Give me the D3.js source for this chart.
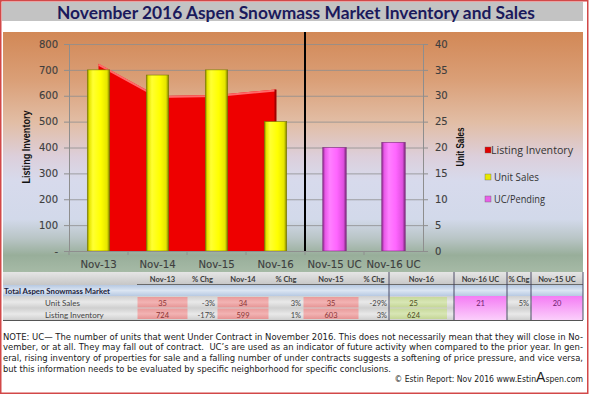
<!DOCTYPE html>
<html><head><meta charset="utf-8">
<script src="https://cdn.jsdelivr.net/npm/d3@7"></script>
<style>body{margin:0;background:#fff}svg{display:block}</style>
</head><body>
<svg id="c" width="590" height="395"></svg>
<script>
// ---------- DATA ----------
const categories = ["Nov-13","Nov-14","Nov-15","Nov-16","Nov-15 UC","Nov-16 UC"];
const inventoryCats = ["Nov-13","Nov-14","Nov-15","Nov-16"];
const listingInventory = [724, 599, 603, 624];
const unitSales = [35, 34, 35, 25];
const ucCats = ["Nov-15 UC","Nov-16 UC"];
const ucPending = [20, 21];
const leftTicks = [0,100,200,300,400,500,600,700,800];
const rightTicks = [0,5,10,15,20,25,30,35,40];
const legendLabels = ["Listing Inventory","Unit Sales","UC/Pending"];
const tableHeaders = ["Nov-13","% Chg","Nov-14","% Chg","Nov-15","% Chg","Nov-16","Nov-16 UC","% Chg","Nov-15 UC"];
const tableUnitSales = ["35","-3%","34","3%","35","-29%","25","21","5%","20"];
const tableListing = ["724","-17%","599","1%","603","3%","624","","",""];
const rowLabels = ["Unit Sales","Listing Inventory"];
const noteLines = [
 "NOTE: UC\u2014 The number of units that went Under Contract in November 2016. This does not necessarily mean that they will close in No-",
 "vember, or at all. They may fall out of contract.  UC\u2019s are used as an indicator of future activity when compared to the prior year. In gen-",
 "eral, rising inventory of properties for sale and a falling number of under contracts suggests a softening of price pressure, and vice versa,",
 "but this information needs to be evaluated by specific neighborhood for specific conclusions."
];

// ---------- LAYOUT ----------
const svg = d3.select("#c");
const defs = svg.append("defs");
const X0 = 69, X1 = 423, Y0 = 251, Y1 = 44;

const bg = defs.append("linearGradient").attr("id","bg").attr("x1",0).attr("y1",0).attr("x2",0).attr("y2",1);
[[0,"#d28856"],[0.2,"#da9f77"],[0.38,"#e2bea6"],[0.52,"#dccfdb"],[0.62,"#d7daec"],[0.78,"#d2d9ea"],[0.86,"#b9c5c6"],[0.93,"#98ae9a"],[1,"#a6baa6"]]
  .forEach(s=>bg.append("stop").attr("offset",s[0]).attr("stop-color",s[1]));

function hGrad(id, stops){
  const g = defs.append("linearGradient").attr("id",id).attr("x1",0).attr("y1",0).attr("x2",1).attr("y2",0);
  stops.forEach(s=>g.append("stop").attr("offset",s[0]).attr("stop-color",s[1]));
}
function vGrad(id, stops){
  const g = defs.append("linearGradient").attr("id",id).attr("x1",0).attr("y1",0).attr("x2",0).attr("y2",1);
  stops.forEach(s=>g.append("stop").attr("offset",s[0]).attr("stop-color",s[1]));
}
hGrad("yel",[[0,"#8c8c00"],[0.1,"#e8e800"],[0.25,"#ffff33"],[0.6,"#ffff00"],[0.88,"#e6e600"],[1,"#7a7a00"]]);
hGrad("pnk",[[0,"#8a2a8a"],[0.1,"#e858e8"],[0.3,"#ff80ff"],[0.6,"#ff66ff"],[0.88,"#e050e0"],[1,"#7a2a7a"]]);
vGrad("hdr",[[0,"#e6e6e6"],[1,"#c6c6c6"]]);
vGrad("tot",[[0,"#b7c9e2"],[0.5,"#dbe5f2"],[1,"#b7c9e2"]]);
vGrad("row",[[0,"#cfcfcf"],[0.5,"#e9e9e9"],[1,"#cfcfcf"]]);
vGrad("salmon",[[0,"#e99a9a"],[0.5,"#f2b3b3"],[1,"#e69494"]]);
vGrad("green",[[0,"#c7d99a"],[0.5,"#d8e6b5"],[1,"#c4d695"]]);
vGrad("mag",[[0,"#f47cf4"],[0.6,"#f8aef8"],[1,"#fbcffb"]]);

svg.append("rect").attr("x",0.75).attr("y",0.75).attr("width",587).attr("height",392.5)
  .attr("fill","#fff").attr("stroke","#d24848").attr("stroke-width",1.5);
svg.append("rect").attr("x",2).attr("y",2).attr("width",581).attr("height",19).attr("fill","#c3c3c3");
svg.append("text").attr("x",296).attr("y",18.5).attr("text-anchor","middle")
  .attr("font-family","Lato, 'Open Sans', sans-serif").attr("font-weight","bold").attr("font-size",16.5)
  .attr("fill","#1b1a5c").attr("textLength",478).attr("lengthAdjust","spacingAndGlyphs")
  .text("November 2016 Aspen Snowmass Market Inventory and Sales");

svg.append("rect").attr("x",3).attr("y",32).attr("width",580).attr("height",240).attr("fill","url(#bg)");

const x = d3.scaleBand().domain(categories).range([X0,X1]).padding(0);
const yL = d3.scaleLinear().domain([0,800]).range([Y0,Y1]);
const yR = d3.scaleLinear().domain([0,40]).range([Y0,Y1]);
const bw = x.bandwidth()*0.38;

const grid = svg.append("g").attr("transform",`translate(${X0},0)`)
  .call(d3.axisLeft(yL).tickValues(leftTicks).tickSize(-(X1-X0)).tickFormat(""));
grid.select(".domain").remove();
grid.selectAll("line").attr("stroke","#8e8e8e").attr("stroke-width",0.8);

const invData = inventoryCats.map((c,i)=>({c, v:listingInventory[i]}));
const area = d3.area().x(d=>x(d.c)+x.bandwidth()/2).y0(Y0).y1(d=>yL(d.v));
svg.append("path").datum(invData).attr("d",area).attr("fill","#ee0000");
svg.append("path").datum(invData).attr("d",d3.line().x(d=>x(d.c)+x.bandwidth()/2).y(d=>yL(d.v)+1))
  .attr("fill","none").attr("stroke","#ff6a6a").attr("stroke-width",2);
const last = invData[invData.length-1];
svg.append("line").attr("x1",x(last.c)+x.bandwidth()/2).attr("x2",x(last.c)+x.bandwidth()/2)
  .attr("y1",yL(last.v)).attr("y2",Y0).attr("stroke","#a00000").attr("stroke-width",2);

svg.append("g").selectAll("rect").data(inventoryCats.map((c,i)=>({c,v:unitSales[i]}))).join("rect")
  .attr("x",d=>x(d.c)+x.bandwidth()/2-bw/2).attr("width",bw)
  .attr("y",d=>yR(d.v)).attr("height",d=>Y0-yR(d.v))
  .attr("fill","url(#yel)").attr("stroke","#7a7a00").attr("stroke-width",0.6);

svg.append("g").selectAll("rect").data(ucCats.map((c,i)=>({c,v:ucPending[i]}))).join("rect")
  .attr("x",d=>x(d.c)+x.bandwidth()/2-bw/2-0.5).attr("width",bw+1)
  .attr("y",d=>yR(d.v)).attr("height",d=>Y0-yR(d.v))
  .attr("fill","url(#pnk)").attr("stroke","#7a2a7a").attr("stroke-width",0.6);

svg.append("line").attr("x1",x("Nov-15 UC")).attr("x2",x("Nov-15 UC")).attr("y1",32).attr("y2",Y0)
  .attr("stroke","#000").attr("stroke-width",2);

const tickFont = "'DejaVu Sans', Verdana, sans-serif";
const axL = svg.append("g").attr("transform",`translate(${X0},0)`)
  .call(d3.axisLeft(yL).tickValues(leftTicks).tickSize(5).tickPadding(6).tickFormat(d=>d===0?"-":d));
const axR = svg.append("g").attr("transform",`translate(${X1},0)`)
  .call(d3.axisRight(yR).tickValues(rightTicks).tickSize(5).tickPadding(7));
const axB = svg.append("g").attr("transform",`translate(0,${Y0})`)
  .call(d3.axisBottom(x).tickSize(0).tickPadding(10));
[axL,axR,axB].forEach(a=>{
  a.selectAll("text").attr("font-family",tickFont).attr("font-size",10).attr("fill","#3e3e3e")
    .attr("stroke","#3e3e3e").attr("stroke-width",0.12);
  a.selectAll("line").attr("stroke","#8e8e8e");
  a.select(".domain").attr("stroke","#8e8e8e");
});
axB.selectAll("text").attr("font-size",10.2);
svg.append("g").selectAll("line").data(categories).join("line")
  .attr("x1",d=>x(d)).attr("x2",d=>x(d)).attr("y1",Y0).attr("y2",Y0+4).attr("stroke","#8e8e8e");

svg.append("text").attr("transform","translate(30,147) rotate(-90)").attr("text-anchor","middle")
  .attr("font-family","'Liberation Sans Narrow','Liberation Sans',Arial,sans-serif").attr("font-weight","bold")
  .attr("font-size",10.5).attr("fill","#111").attr("textLength",73).attr("lengthAdjust","spacingAndGlyphs")
  .text("Listing Inventory");
svg.append("text").attr("transform","translate(464,147) rotate(-90)").attr("text-anchor","middle")
  .attr("font-family","'Liberation Sans Narrow','Liberation Sans',Arial,sans-serif").attr("font-weight","bold")
  .attr("font-size",10.5).attr("fill","#111").attr("textLength",39).attr("lengthAdjust","spacingAndGlyphs")
  .text("Unit Sales");

const legColors = ["#e00000","#e8e800","#e860e8"];
const legY = [150,177,199];
const legW = [82,45,51];
const leg = svg.append("g").selectAll("g").data(legendLabels).join("g")
  .attr("transform",(d,i)=>`translate(485,${legY[i]})`);
leg.append("rect").attr("x",0).attr("y",-3).attr("width",6).attr("height",6)
  .attr("fill",(d,i)=>legColors[i]).attr("stroke","#666").attr("stroke-width",0.4);
leg.append("text").attr("x",(d,i)=>i===0?6:9).attr("y",3.8).attr("font-family","'Open Sans',sans-serif")
  .attr("font-size",10).attr("fill","#333").attr("textLength",(d,i)=>legW[i])
  .attr("lengthAdjust","spacingAndGlyphs").text(d=>d);

// ---------- TABLE ----------
const tFont = "Lato, 'Open Sans', sans-serif";
svg.append("rect").attr("x",3).attr("y",272).attr("width",580).attr("height",13).attr("fill","url(#hdr)");
svg.append("rect").attr("x",3).attr("y",285).attr("width",580).attr("height",11).attr("fill","url(#tot)");
svg.append("rect").attr("x",3).attr("y",296).attr("width",580).attr("height",12).attr("fill","url(#row)");
svg.append("rect").attr("x",3).attr("y",308).attr("width",580).attr("height",12).attr("fill","url(#row)");

const colEdges = [[137,188],[188,217],[217,269],[269,303],[303,359],[359,389],[389,454],[454,507],[507,531],[531,583]];
const colFill = ["salmon",null,"salmon",null,"salmon",null,"green","mag",null,"mag"];
const colTxt = ["#8a3434","#444","#8a3434","#444","#8a3434","#444","#4c4c22","#6e1e6e","#444","#6e1e6e"];
const isPct = h=>h.startsWith("%");

colEdges.forEach((e,i)=>{
  if(!colFill[i]) return;
  const w = colFill[i]==="green" ? 57 : (e[1]-e[0]-1);
  const x0 = colFill[i]==="green" ? e[0]+1 : e[0]+0.5;
  if(colFill[i]==="mag"){
    svg.append("rect").attr("x",x0).attr("y",296).attr("width",w).attr("height",24).attr("fill","url(#mag)");
  } else {
    svg.append("rect").attr("x",x0).attr("y",297).attr("width",w).attr("height",10.5).attr("fill",`url(#${colFill[i]})`);
    svg.append("rect").attr("x",x0).attr("y",308.5).attr("width",w).attr("height",10.5).attr("fill",`url(#${colFill[i]})`);
  }
});
svg.append("line").attr("x1",137).attr("x2",583).attr("y1",284.5).attr("y2",284.5).attr("stroke","#6a6a6a").attr("stroke-width",1);
svg.append("g").selectAll("text").data(tableHeaders).join("text")
  .attr("x",(d,i)=>(colEdges[i][0]+colEdges[i][1])/2).attr("y",281.5).attr("text-anchor","middle")
  .attr("font-family",tFont).attr("font-weight","bold").attr("font-size",7.5).attr("fill","#3c3c3c").text(d=>d);
svg.append("text").attr("x",4).attr("y",294).attr("font-family",tFont).attr("font-weight","bold")
  .attr("font-size",7.8).attr("fill","#1e1e3c").text("Total Aspen Snowmass Market");
svg.append("g").selectAll("text").data(rowLabels).join("text")
  .attr("x",45).attr("y",(d,i)=>305.5+i*12).attr("font-family",tFont).attr("font-size",8)
  .attr("fill","#454545").text(d=>d);
[tableUnitSales, tableListing].forEach((row,r)=>{
  svg.append("g").selectAll("text").data(row).join("text")
    .attr("x",(d,i)=>isPct(tableHeaders[i]) ? colEdges[i][1]-2 : (colEdges[i][0]+colEdges[i][1])/2 + (colFill[i]==="green"?-8:0))
    .attr("text-anchor",(d,i)=>isPct(tableHeaders[i])?"end":"middle")
    .attr("y",305.5+r*12).attr("font-family",tFont).attr("font-size",7.5)
    .attr("fill",(d,i)=>colTxt[i]).text(d=>d);
});
[389,454,507,531,583].forEach(v=>svg.append("line").attr("x1",v).attr("x2",v).attr("y1",272).attr("y2",320)
  .attr("stroke","#3c3c5a").attr("stroke-width",0.9));
svg.append("line").attr("x1",3).attr("x2",583).attr("y1",320.5).attr("y2",320.5).attr("stroke","#555").attr("stroke-width",1.2);

// ---------- NOTE ----------
const noteW = [580,580,580,388];
svg.append("g").selectAll("text").data(noteLines).join("text")
  .attr("x",3).attr("y",(d,i)=>339.5+i*10.8).attr("font-family","'DejaVu Sans Condensed','Liberation Sans',sans-serif")
  .attr("font-size",9.4).attr("fill","#1a1a1a").attr("textLength",(d,i)=>noteW[i])
  .attr("lengthAdjust","spacingAndGlyphs").attr("xml:space","preserve").text(d=>d);

const ft = svg.append("text").attr("x",583).attr("y",382).attr("text-anchor","end")
  .attr("font-family","'DejaVu Sans Condensed','Liberation Sans',sans-serif").attr("font-size",8.6).attr("fill","#222");
ft.append("tspan").text("\u00a9 Estin Report: Nov 2016 www.Estin");
ft.append("tspan").attr("font-size",14).attr("font-family","'Liberation Sans',Arial,sans-serif").text("A");
ft.append("tspan").text("spen.com");
</script>
</body></html>
